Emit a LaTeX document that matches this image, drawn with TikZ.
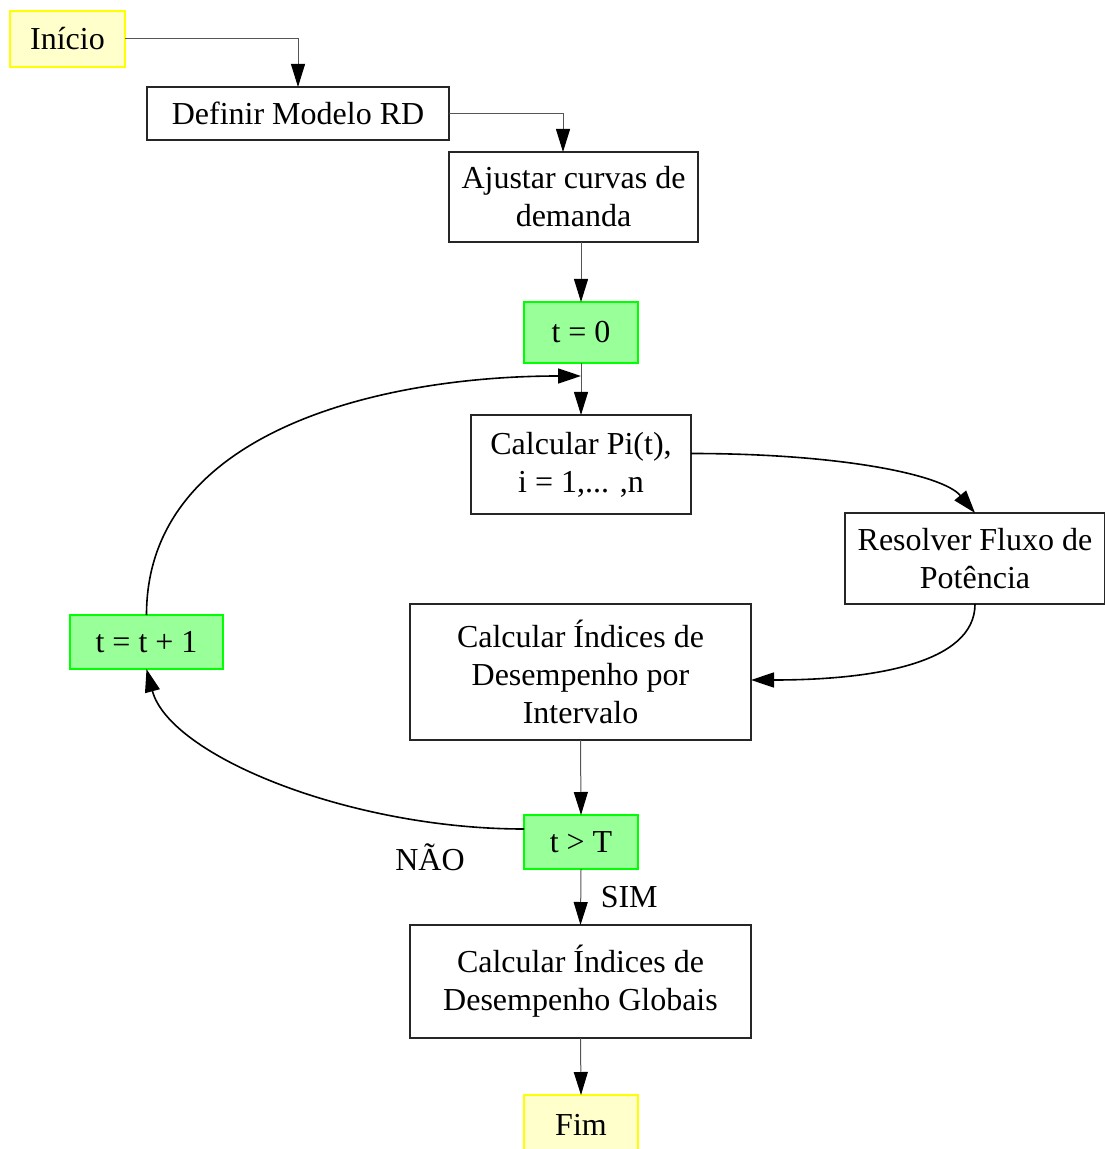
\documentclass[tikz,border=0pt]{standalone}
\usepackage{fontspec}
\setmainfont{Liberation Serif}
\usetikzlibrary{arrows.meta}
\definecolor{startfill}{HTML}{FFFFCC}
\definecolor{startline}{HTML}{FFFF00}
\definecolor{cntfill}{HTML}{99FF99}
\definecolor{cntline}{HTML}{00FF00}
\definecolor{flowgray}{HTML}{555555}
\begin{document}
\begin{tikzpicture}[x=0.5pt,y=-0.5pt,
    font=\fontsize{16}{19}\selectfont,
    every node/.style={inner sep=0pt,outer sep=0pt,align=center},
    box/.style={draw=black!85,line width=0.9pt,fill=white},
    startend/.style={draw=startline,line width=1.1pt,fill=startfill},
    counter/.style={draw=cntline,line width=1.1pt,fill=cntfill},
    flow/.style={draw=flowgray,line width=0.5pt,-{Triangle[length=11.5pt,width=7pt,color=black]}},
    loop/.style={draw=black,line width=0.8pt,-{Triangle[length=11.5pt,width=7.5pt]}}]
    \useasboundingbox (0,0) rectangle (1104,1149);
    % caixas
    \node[startend,minimum width=57.5pt,minimum height=28pt] (inicio) at (67.5,39) {Início};
    \node[box,minimum width=151pt,minimum height=26.5pt] (definir) at (298,113.5) {Definir Modelo RD};
    \node[box,minimum width=124.5pt,minimum height=45pt] (ajustar) at (573.5,197) {Ajustar curvas de\\demanda};
    \node[counter,minimum width=57pt,minimum height=30.5pt] (tzero) at (581,332.5) {t = 0};
    \node[box,minimum width=110pt,minimum height=49.5pt] (calcpi) at (581,464.5) {Calcular Pi(t),\\i = 1,... ,n};
    \node[box,minimum width=130pt,minimum height=45.5pt] (fluxo) at (975,558.5) {Resolver Fluxo de\\Potência};
    \node[box,minimum width=170.5pt,minimum height=68pt] (intervalo) at (580.5,672) {Calcular Índices de\\Desempenho por\\Intervalo};
    \node[counter,minimum width=76.5pt,minimum height=27pt] (tinc) at (146.5,642) {t = t + 1};
    \node[counter,minimum width=57pt,minimum height=27pt] (tfim) at (581,842) {t > T};
    \node[box,minimum width=170.5pt,minimum height=56.5pt] (globais) at (580.5,981.5) {Calcular Índices de\\Desempenho Globais};
    \node[startend,minimum width=57pt,minimum height=30pt] (fim) at (581,1125) {Fim};
    \coordinate (retorno) at (581,376);
    % ligacoes
    \draw[flow] (inicio.east) -| (definir.north);
    \draw[flow] (definir.east) -| ([xshift=-5.25pt]ajustar.north);
    \draw[flow] (ajustar.south -| tzero.north) -- (tzero.north);
    \draw[flow] (tzero.south) -- (calcpi.north);
    \draw[loop] (calcpi.east) ++(0,-11) to[out=0,in=130,out distance=75pt,in distance=25pt] (fluxo.north);
    \draw[loop] (fluxo.south) to[out=-90,in=0,out distance=30pt,in distance=60pt] ([yshift=-4pt]intervalo.east);
    \draw[flow] (intervalo.south) -- (tfim.north);
    \draw[loop] ([yshift=6.5pt]tfim.west) to[out=180,in=-75,out distance=87pt,in distance=45pt] (tinc.south);
    \draw[loop] (tinc.north) to[out=90,in=180,out distance=92pt,in distance=100pt] (retorno);
    \draw[flow] (tfim.south) -- node[right=10pt] {SIM} (globais.north);
    \draw[flow] (globais.south) -- (fim.north);
    \node (nao) at (430,857) {NÃO};
\end{tikzpicture}
\end{document}
